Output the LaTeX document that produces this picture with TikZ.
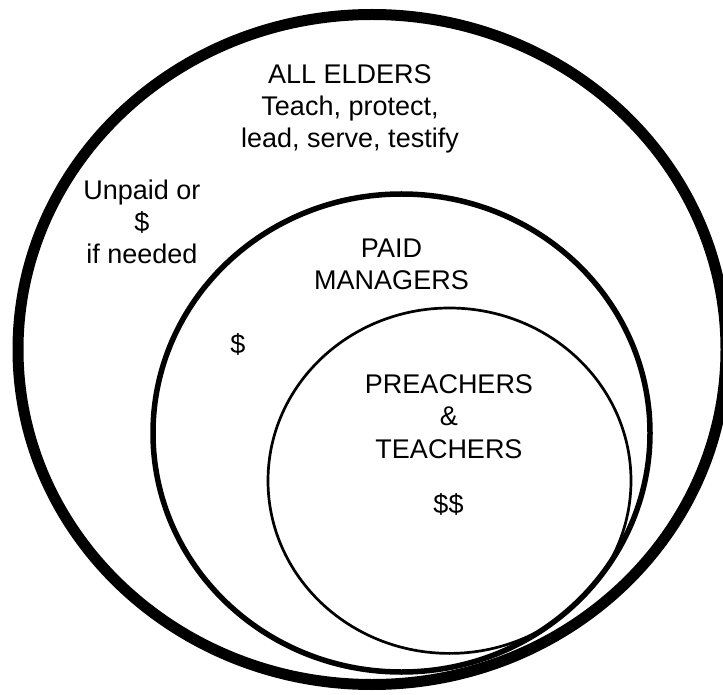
\documentclass[tikz,border=0pt]{standalone}
\usepackage{fontspec}
\setmainfont{Liberation Sans}
\begin{document}
\begin{tikzpicture}[x=0.5pt,y=-0.5pt,
  lbl/.style={align=center,font=\fontsize{13.5}{16.1}\selectfont,inner sep=0pt,anchor=base}]
\useasboundingbox (0,0) rectangle (723,695);
\clip (0,0) rectangle (723,695);
\draw[line width=5.5pt] (372,349.5) ellipse [x radius=354, y radius=335];
\draw[line width=2.75pt] (401.5,433) ellipse [x radius=248.5, y radius=239];
\draw[line width=1.35pt] (449.5,480.7) ellipse [x radius=181.5, y radius=172.7];
% base anchor sits on the last line
\node[lbl] (elders) at (350,148) {ALL ELDERS\\Teach, protect,\\lead, serve, testify};
\node[lbl] (unpaid) at (142,264) {Unpaid or\\\$\\if needed};
\node[lbl] (managers) at (391.5,290) {PAID\\MANAGERS};
\node[lbl] (paid) at (238,353) {\$};
\node[lbl] (preachers) at (449,458) {PREACHERS\\\&\\TEACHERS};
\node[lbl] (double) at (448.5,513) {\$\$};
\end{tikzpicture}
\end{document}
